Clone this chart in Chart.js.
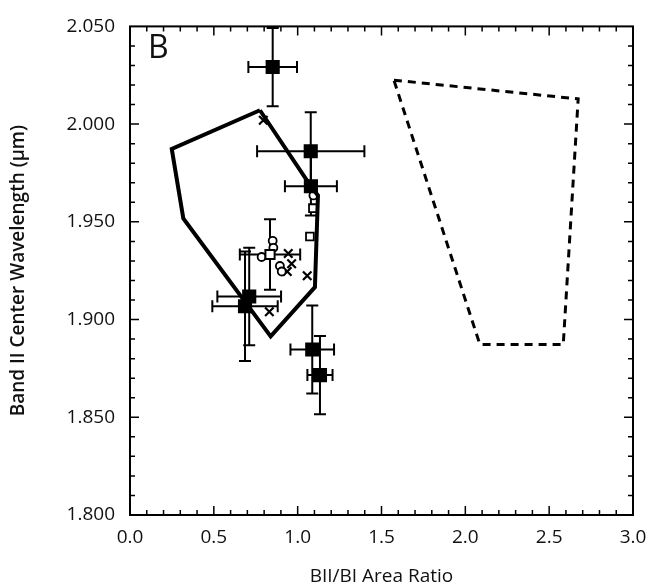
<!DOCTYPE html>
<html lang="en">
<head>
<meta charset="UTF-8" />
<title>Band II Center vs BII/BI Area Ratio</title>
<script src="https://cdn.jsdelivr.net/npm/chart.js"></script>
<style>
  body { margin: 0; background: #fff; }
  #wrap { width: 658px; height: 588px; }
</style>
</head>
<body>
<div id="wrap"><canvas id="grafik" width="658" height="588"></canvas></div>
<script>
  // filled squares with error bars
  const sqX = [0.851, 1.078, 1.079, 0.711, 0.686, 1.087, 1.133];
  const sqY = [2.0292, 1.9861, 1.9682, 1.9118, 1.9068, 1.8847, 1.8716];
  const sqXErr = [0.145, 0.32, 0.155, 0.19, 0.195, 0.13, 0.075];
  const sqYErr = [0.02, 0.02, 0.015, 0.025, 0.028, 0.0225, 0.02];

  // open square with error bars
  const boxX = [0.835];
  const boxY = [1.9333];
  const boxXErr = [0.18];
  const boxYErr = [0.018];

  // small open symbols and crosses
  const circX = [0.851, 0.855, 0.785, 0.894, 0.905, 1.094];
  const circY = [1.9403, 1.9367, 1.932, 1.9274, 1.9246, 1.9635];
  const osqX = [1.091, 1.073];
  const osqY = [1.957, 1.9425];
  const crossX = [0.944, 0.964, 0.938, 1.057, 0.831, 0.795];
  const crossY = [1.9338, 1.9286, 1.9246, 1.9224, 1.904, 2.002];

  // field outlines
  const polyX = [0.775, 0.249, 0.318, 0.839, 1.103, 1.121, 1.079, 0.775];
  const polyY = [2.0071, 1.9873, 1.9518, 1.8914, 1.9166, 1.9635, 1.9682, 2.0071];
  const dashX = [1.574, 2.673, 2.584, 2.087, 1.574];
  const dashY = [2.0225, 2.0129, 1.8872, 1.8872, 2.0225];

  // axes
  const xMin = 0, xMax = 3, xStep = 0.5, xMinor = 0.1;
  const yMin = 1.8, yMax = 2.05, yStep = 0.05, yMinor = 0.01;
  const xTitle = 'BII/BI Area Ratio';
  const yTitle = 'Band II Center Wavelength (\u00b5m)';
  const panelLabel = 'B';

  const pts = (xs, ys) => xs.map((v, i) => ({ x: v, y: ys[i] }));
  const FONT = "'Open Sans', 'Liberation Sans', sans-serif";

  const frame = {
    id: 'frame',
    beforeDatasetsDraw(chart) {
      const ctx = chart.ctx, sx = chart.scales.x, sy = chart.scales.y;
      const cap = 6;
      ctx.save();
      ctx.strokeStyle = '#000';
      ctx.lineWidth = 2;
      const bars = (xs, ys, xe, ye) => {
        xs.forEach((v, i) => {
          const px = sx.getPixelForValue(v), py = sy.getPixelForValue(ys[i]);
          const l = sx.getPixelForValue(v - xe[i]), r = sx.getPixelForValue(v + xe[i]);
          const t = sy.getPixelForValue(ys[i] + ye[i]), b = sy.getPixelForValue(ys[i] - ye[i]);
          ctx.beginPath();
          ctx.moveTo(l, py); ctx.lineTo(r, py);
          ctx.moveTo(l, py - cap); ctx.lineTo(l, py + cap);
          ctx.moveTo(r, py - cap); ctx.lineTo(r, py + cap);
          ctx.moveTo(px, t); ctx.lineTo(px, b);
          ctx.moveTo(px - cap, t); ctx.lineTo(px + cap, t);
          ctx.moveTo(px - cap, b); ctx.lineTo(px + cap, b);
          ctx.stroke();
        });
      };
      bars(sqX, sqY, sqXErr, sqYErr);
      bars(boxX, boxY, boxXErr, boxYErr);
      ctx.restore();
    },
    afterDraw(chart) {
      const ctx = chart.ctx, a = chart.chartArea, sx = chart.scales.x, sy = chart.scales.y;
      ctx.save();
      ctx.strokeStyle = '#000';
      ctx.lineWidth = 2;
      ctx.strokeRect(a.left, a.top, a.right - a.left, a.bottom - a.top);
      ctx.lineWidth = 1.5;
      ctx.beginPath();
      const nx = Math.round((xMax - xMin) / xMinor);
      for (let i = 1; i < nx; i++) {
        const px = sx.getPixelForValue(xMin + i * xMinor);
        const len = i % 5 === 0 ? 9 : 5;
        ctx.moveTo(px, a.bottom); ctx.lineTo(px, a.bottom - len);
        ctx.moveTo(px, a.top); ctx.lineTo(px, a.top + len);
      }
      const ny = Math.round((yMax - yMin) / yMinor);
      for (let i = 1; i < ny; i++) {
        const py = sy.getPixelForValue(yMin + i * yMinor);
        const len = i % 5 === 0 ? 9 : 5;
        ctx.moveTo(a.left, py); ctx.lineTo(a.left + len, py);
        ctx.moveTo(a.right, py); ctx.lineTo(a.right - len, py);
      }
      ctx.stroke();
      ctx.fillStyle = '#111';
      ctx.font = "32px " + FONT;
      ctx.textBaseline = 'top';
      ctx.fillText(panelLabel, a.left + 18, a.top + 6);
      ctx.restore();
    }
  };

  const ctx = document.getElementById('grafik').getContext('2d');
  const chart = new Chart(ctx, {
    type: 'scatter',
    data: {
      datasets: [
        {
          label: 'outline',
          data: pts(polyX, polyY),
          showLine: true,
          borderColor: '#000',
          borderWidth: 4,
          pointRadius: 0,
          tension: 0
        },
        {
          label: 'dashed outline',
          data: pts(dashX, dashY),
          showLine: true,
          borderColor: '#000',
          borderWidth: 3,
          borderDash: [8, 6],
          pointRadius: 0,
          tension: 0
        },
        {
          label: 'filled squares',
          data: pts(sqX, sqY),
          pointStyle: 'rect',
          pointRadius: 10,
          backgroundColor: '#000',
          borderColor: '#000',
          borderWidth: 0
        },
        {
          label: 'open square',
          data: pts(boxX, boxY),
          pointStyle: 'rect',
          pointRadius: 6.5,
          backgroundColor: '#fff',
          borderColor: '#000',
          borderWidth: 2
        },
        {
          label: 'open circles',
          data: pts(circX, circY),
          pointStyle: 'circle',
          pointRadius: 4,
          backgroundColor: '#fff',
          borderColor: '#000',
          borderWidth: 1.8
        },
        {
          label: 'open squares',
          data: pts(osqX, osqY),
          pointStyle: 'rect',
          pointRadius: 5.5,
          backgroundColor: '#fff',
          borderColor: '#000',
          borderWidth: 1.8
        },
        {
          label: 'crosses',
          data: pts(crossX, crossY),
          pointStyle: 'crossRot',
          pointRadius: 6,
          borderColor: '#000',
          borderWidth: 2.2
        }
      ]
    },
    options: {
      responsive: false,
      devicePixelRatio: 1,
      animation: false,
      layout: { padding: { top: 18, right: 25, left: 0, bottom: 0 } },
      plugins: {
        legend: { display: false },
        tooltip: { enabled: false }
      },
      scales: {
        x: {
          type: 'linear',
          min: xMin,
          max: xMax,
          grid: { display: false, drawTicks: false },
          border: { display: false },
          ticks: {
            stepSize: xStep,
            padding: 11,
            color: '#111',
            font: { family: FONT, size: 19 },
            maxRotation: 0,
            callback: v => Number(v).toFixed(1)
          },
          title: {
            display: true,
            text: xTitle,
            color: '#111',
            font: { family: FONT, size: 19 },
            padding: { top: 0, bottom: 0 }
          },
          afterFit: s => { s.height = 73; }
        },
        y: {
          type: 'linear',
          min: yMin,
          max: yMax,
          grid: { display: false, drawTicks: false },
          border: { display: false },
          ticks: {
            stepSize: yStep,
            padding: 15,
            color: '#111',
            font: { family: FONT, size: 19 },
            callback: v => Number(v).toFixed(3)
          },
          title: {
            display: true,
            text: yTitle,
            color: '#111',
            font: { family: FONT, size: 19, weight: '600' },
            padding: { top: 7, bottom: 0 }
          },
          afterFit: s => { s.width = 130; }
        }
      }
    },
    plugins: [frame]
  });
</script>
</body>
</html>
